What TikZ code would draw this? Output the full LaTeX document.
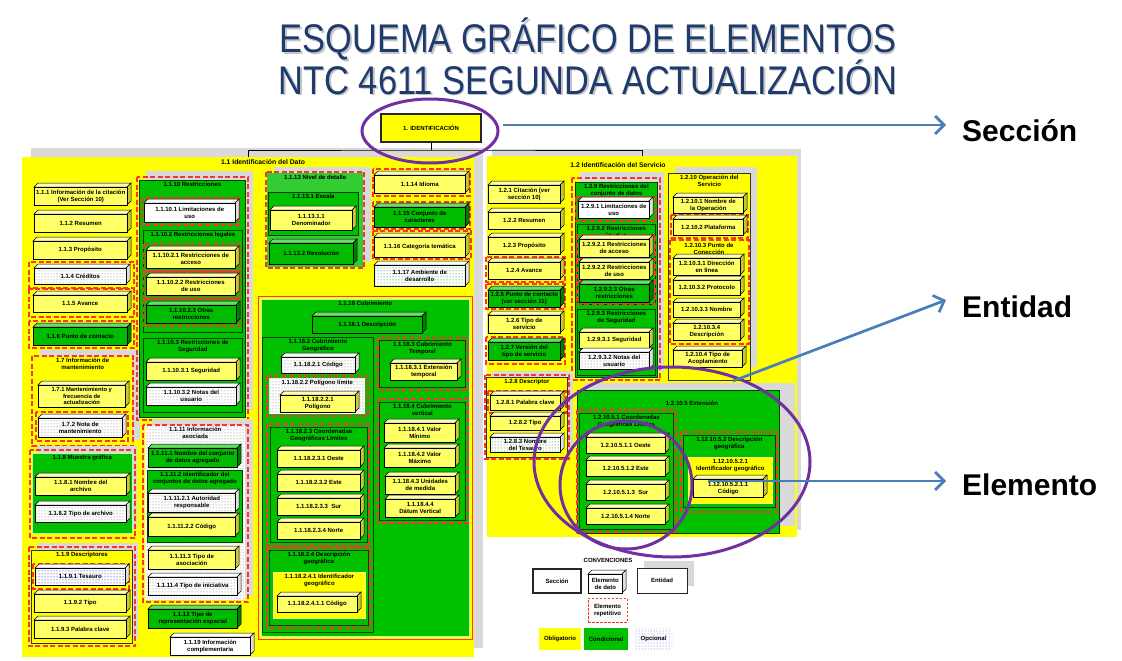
\documentclass[tikz,border=0pt]{standalone}
\usepackage{fontspec}
\setmainfont{Liberation Sans}
\usepackage{graphicx}
\usetikzlibrary{patterns,arrows.meta,shapes.geometric}
\definecolor{areaY}{HTML}{FFFF00}
\definecolor{grG}{HTML}{00C000}
\definecolor{grLG}{HTML}{33CC33}
\definecolor{bY}{HTML}{FFFF66}
\definecolor{bYt}{HTML}{FFFFB3}
\definecolor{bYs}{HTML}{C8C832}
\definecolor{bG}{HTML}{00BB00}
\definecolor{bGt}{HTML}{66DD66}
\definecolor{bGs}{HTML}{008000}
\definecolor{shgray}{HTML}{D9D9D9}
\definecolor{repred}{HTML}{FF3030}
\definecolor{navy}{HTML}{1F3A6E}
\definecolor{purp}{HTML}{7030A0}
\definecolor{blueA}{HTML}{4A7EBB}
\newcommand\boxfont{\fontsize{6}{7.1}\selectfont\bfseries}
\newcommand\smallboxfont{\fontsize{5.8}{6.4}\selectfont\bfseries}
\tikzset{
  ebox/.style={draw=black, line width=0.5pt, inner sep=0.3pt, align=center, font=\boxfont},
  faceline/.style={draw=black, line width=0.5pt},
  frontY/.style={fill=bY}, topY/.style={fill=bYt}, sideY/.style={fill=bYs},
  frontT/.style={fill=bY, font=\smallboxfont}, topT/.style={fill=bYt}, sideT/.style={fill=bYs},
  frontG/.style={fill=bG}, topG/.style={fill=bGt}, sideG/.style={fill=bGs},
  frontW/.style={fill=white}, topW/.style={fill=white}, sideW/.style={fill=gray!25},
  frontO/.style={fill=white, postaction={pattern=dots, pattern color=black!55}}, topO/.style={fill=white}, sideO/.style={fill=gray!25},
  frontB/.style={fill=white, postaction={pattern=dots, pattern color=blue!60!black}}, topB/.style={fill=white}, sideB/.style={fill=gray!25},
  frontN/.style={fill=white, postaction={pattern=dots, pattern color=green!50!black}}, topN/.style={fill=white}, sideN/.style={fill=gray!25},
  grpbase/.style={inner sep=0pt},
  gG/.style={fill=grG, draw=black!75!green, line width=0.8pt},
  gGl/.style={fill=grG, draw=green!30!white, line width=0.6pt},
  gLG/.style={fill=grLG, draw=none},
  gY/.style={fill=areaY, draw=black!80, line width=0.8pt},
  gY0/.style={fill=areaY, draw=none},
  gYl/.style={fill=areaY, draw=white!50!yellow, line width=0.8pt},
  gO/.style={fill=white, postaction={pattern=dots, pattern color=black!55}},
  gtitle/.style={font=\boxfont, align=center, inner sep=0.5pt},
  atitle/.style={font=\fontsize{6.8}{8}\selectfont\bfseries, inner sep=0pt},
  area/.style={fill=areaY, inner sep=0pt},
  repf/.style={draw=repred, line width=1.1pt, dash pattern=on 5pt off 2.5pt},
  shdw/.style={fill=shgray},
  tree/.style={draw=black, line width=0.6pt},
  purpring/.style={draw=purp, line width=3pt, ellipse, inner sep=0pt},
  bluearrow/.style={draw=blueA, line width=2.7pt, -{Straight Barb[length=9pt,width=18pt]}},
  lbl/.style={font=\fontsize{30}{30}\selectfont\bfseries, inner sep=0pt},
  ttl/.style={font=\fontsize{40}{40}\selectfont, text=navy, inner sep=0pt},
  ttls/.style={font=\fontsize{40}{40}\selectfont, text=gray!45, inner sep=0pt},
  g118o/.style={fill=areaY, draw=repred, line width=1pt, inner sep=0pt},
  identbox/.style={fill=areaY, draw=black!85, line width=1.8pt, font=\boxfont, minimum width=100pt, minimum height=28pt, inner sep=0pt},
  cvtitle/.style={font=\boxfont, inner sep=0pt},
  secbox/.style={draw=black!85, line width=1.6pt, font=\boxfont, inner sep=0pt, align=center},
  entbox/.style={draw=black!85, fill=white, line width=1pt, font=\boxfont, inner sep=0pt},
  repbox/.style={draw=repred, line width=1pt, dash pattern=on 2.5pt off 1.5pt, font=\boxfont, inner sep=0pt, align=center},
  cvfill/.style={font=\boxfont, inner sep=0pt, minimum height=22pt},
}
\newcommand\eb[7]{%
  \path[faceline,top#6] (#2,#3) -- ++(4,-4) -- ++(#4,0) -- ++(-4,4) -- cycle;
  \path[faceline,side#6] (#2+#4,#3) -- ++(4,-4) -- ++(0,#5) -- ++(-4,4) -- cycle;
  \node[ebox,front#6,minimum width=#4pt,minimum height=#5pt,anchor=north west] (#1) at (#2,#3) {#7};}
\newcommand\grp[7]{%
  \node[grpbase,#6,minimum width=#4pt,minimum height=#5pt,anchor=north west] (#1) at (#2,#3) {};
  \node[gtitle,anchor=north] (#1-t) at ([yshift=-1.5pt]#1.north) {#7};}
\newcommand\rframe[4]{\draw[repf] (#1,#2) rectangle (#3,#4);}
\newcommand\gshadow[4]{\fill[shdw] (#1,#2) rectangle (#3,#4);}
\begin{document}
\begin{tikzpicture}[x=1pt,y=-1pt]
\useasboundingbox (0,0) rectangle (1122,661);
\fill[white] (0,0) rectangle (1122,661);
% ---------- title
\node[ttls, anchor=base] (t1s) at (589.5,54.5) {\scalebox{0.86}[1]{ESQUEMA GRÁFICO DE ELEMENTOS}};
\node[ttl, anchor=base] (t1) at (588,53) {\scalebox{0.86}[1]{ESQUEMA GRÁFICO DE ELEMENTOS}};
\node[ttls, anchor=base] (t2s) at (589.5,95.5) {\scalebox{0.86}[1]{NTC 4611 SEGUNDA ACTUALIZACIÓN}};
\node[ttl, anchor=base] (t2) at (588,94) {\scalebox{0.86}[1]{NTC 4611 SEGUNDA ACTUALIZACIÓN}};
% ---------- section 1.1
\gshadow{31}{148}{483}{648}
\node[area,minimum width=452pt,minimum height=500pt,anchor=north west] (a11) at (22,157) {};
\node[atitle] (a11-t) at (263,162) {1.1 Identificación del Dato};
% column 1
\eb{e111}{34}{187}{93}{18}{Y}{1.1.1 Información de la citación\\(Ver Sección 10)}
\eb{e112}{34}{214}{93}{18}{Y}{1.1.2 Resumen}
\eb{e113}{33}{241}{94}{18}{Y}{1.1.3 Propósito}
\rframe{29}{262}{134}{288}
\eb{e114}{34}{268}{92}{16}{O}{1.1.4 Créditos}
\rframe{29}{289}{134}{317}
\eb{e115}{33}{295}{94}{17}{Y}{1.1.5 Avance}
\rframe{29}{321}{134}{348}
\eb{e116}{33}{327}{94}{18}{G}{1.1.6 Punto de contacto}
\gshadow{40}{350}{140}{440}
\grp{g117}{32}{356}{101}{90}{gY0}{1.7 Información de\\mantenimiento}
\rframe{32}{356}{133}{446}
\eb{e1171}{38}{385}{87}{22}{T}{1.7.1 Mantenimiento y\\frecuencia de\\actualización}
\rframe{36}{412}{128}{441}
\eb{e1172}{38}{418}{84}{19}{O}{1.7.2 Nota de\\mantenimiento}
\gshadow{37}{446}{137}{528}
\grp{g118}{32}{453}{100}{80}{gGl}{1.1.8 Muestra gráfica}
\rframe{30}{450}{135}{538}
\eb{e1181}{35}{477}{91}{18}{Y}{1.1.8.1 Nombre del\\archivo}
\eb{e1182}{35}{505}{91}{17}{O}{1.1.8.2 Tipo de archivo}
\gshadow{37}{543}{138}{638}
\grp{g119}{31}{550}{101}{93}{gY}{1.1.9 Descriptores}
\rframe{29}{547}{135}{646}
\rframe{33}{564}{129}{589}
\eb{e1191}{35}{568}{90}{17}{B}{1.1.9.1 Tesauro}
\eb{e1192}{34}{594}{92}{18}{Y}{1.1.9.2 Tipo}
\eb{e1193}{34}{620}{92}{18}{Y}{1.1.9.3 Palabra clave}
% column 2
\gshadow{146}{171}{253}{410}
\grp{g1110}{139}{180}{106}{237}{gG}{1.1.10 Restricciones}
\rframe{137}{177}{248}{420}
\rframe{142}{198}{239}{225}
\eb{e11101}{144}{203}{91}{19}{W}{1.1.10.1 Limitaciones de\\uso}
\grp{g11102}{143}{230}{99}{102}{gG}{1.1.10.2 Restricciones legales}
\rframe{144}{244}{240}{271}
\eb{e111021}{146}{250}{89}{18}{Y}{1.1.10.2.1 Restricciones de\\acceso}
\rframe{144}{272}{240}{298}
\eb{e111022}{146}{277}{89}{18}{Y}{1.1.10.2.2 Restricciones\\de uso}
\rframe{144}{299}{240}{326}
\eb{e111023}{146}{305}{90}{18}{G}{1.1.10.2.3 Otras\\restricciones}
\grp{g11103}{143}{338}{99}{74}{gG}{1.1.10.3 Restricciones de\\Seguridad}
\eb{e111031}{146}{362}{90}{18}{Y}{1.1.10.3.1 Seguridad}
\eb{e111032}{146}{387}{90}{18}{O}{1.1.10.3.2 Notas del\\usuario}
\gshadow{152}{419}{253}{596}
\grp{g1111}{145}{425}{100}{175}{gO}{1.1.11 Información\\asociada}
\rframe{143}{425}{248}{602}
\eb{e11111}{148}{448}{89}{19}{G}{1.1.11.1 Nombre del conjunto\\de datos agregado}
\grp{g11112}{147}{470}{95}{72}{gG}{1.1.11.2 Identificador del\\conjuntos de datos agregado}
\eb{e111121}{148}{493}{87}{19}{O}{1.1.11.2.1 Autoridad\\responsable}
\eb{e111122}{148}{517}{87}{19}{Y}{1.1.11.2.2 Código}
\eb{e11113}{148}{550}{87}{19}{Y}{1.1.11.3 Tipo de\\asociación}
\eb{e11114}{148}{577}{89}{18}{O}{1.1.11.4 Tipo de iniciativa}
\eb{e1112}{148}{609}{89}{19}{G}{1.1.12 Tipo de\\representación espacial}
\eb{e1119}{170}{637}{80}{18}{W}{1.1.19 Información\\complementaria}
% column 3
\gshadow{274}{167}{371}{262}
\grp{g1113}{267}{173}{96}{94}{gLG}{1.1.13 Nivel de detalle}
\rframe{266}{172}{364}{268}
\grp{g11131}{268}{192}{90}{43}{gG}{1.1.13.1 Escala}
\eb{e111311}{270}{210}{82}{20}{Y}{1.1.13.1.1\\Denominador}
\eb{e11132}{269}{243}{84}{21}{G}{1.1.13.2 Resolución}
\rframe{373}{169}{470}{196}
\eb{e1114}{374}{175}{91}{18}{Y}{1.1.14 Idioma}
\rframe{373}{202}{470}{229}
\eb{e1115}{374}{207}{91}{20}{G}{1.1.15 Conjunto de\\caracteres}
\rframe{373}{231}{471}{259}
\eb{e1116}{374}{237}{91}{20}{Y}{1.1.16 Categoría temática}
\eb{e1117}{374}{265}{91}{21}{N}{1.1.17 Ambiente de\\desarrollo}
% 1.1.18
\node[g118o,minimum width=214pt,minimum height=343pt,anchor=north west] (g1118o) at (258,296) {};
\grp{g1118}{261}{299}{208}{337}{gGl}{1.1.18 Cubrimiento}
\eb{e11181}{312}{316}{110}{17}{G}{1.1.18.1 Descripción}
\grp{g11182}{262}{337}{111}{295}{gG}{1.1.18.2 Cubrimiento\\Geográfico}
\eb{e111821}{281}{357}{74}{16}{O}{1.1.18.2.1 Código}
\rframe{267}{376}{368}{416}
\grp{g111822}{269}{378}{96}{36}{gO}{1.1.18.2.2 Polígono límite}
\eb{e1118221}{280}{395}{75}{17}{Y}{1.1.18.2.2.1\\Polígono}
\rframe{267}{424}{369}{546}
\grp{g111823}{270}{427}{97}{115}{gG}{1.1.18.2.3 Coordenadas\\Geográficas Límites}
\eb{e1118231}{277}{450}{83}{17}{Y}{1.1.18.2.3.1 Oeste}
\eb{e1118232}{277}{474}{83}{17}{Y}{1.1.18.2.3.2 Este}
\eb{e1118233}{277}{498}{83}{17}{Y}{1.1.18.2.3.3\ \ Sur}
\eb{e1118234}{277}{522}{83}{17}{Y}{1.1.18.2.3.4 Norte}
\rframe{267}{548}{370}{628}
\grp{g111824}{269}{550}{99}{75}{gG}{1.1.18.2.4 Descripción\\geográfica}
\grp{g1118241}{273}{572}{92}{46}{gYl}{1.1.18.2.4.1 Identificador\\geográfico}
\eb{e11182411}{277}{596}{80}{16}{Y}{1.1.18.2.4.1.1 Código}
\rframe{378}{338}{468}{390}
\grp{g11183}{379}{340}{86}{47}{gG}{1.1.18.3 Cubrimiento\\Temporal}
\eb{e111831}{390}{363}{67}{17}{Y}{1.1.18.3.1 Extensión\\temporal}
\rframe{378}{399}{468}{523}
\grp{g11184}{379}{402}{86}{118}{gG}{1.1.18.4 Cubrimiento\\vertical}
\eb{e111841}{384}{423}{71}{19}{Y}{1.1.18.4.1 Valor\\Mínimo}
\eb{e111842}{384}{448}{71}{19}{Y}{1.1.18.4.2 Valor\\Máximo}
\eb{e111843}{385}{476}{70}{18}{Y}{1.1.18.4.3 Unidades\\de medida}
\eb{e111844}{385}{499}{70}{18}{Y}{1.1.18.4.4\\Dátum Vertical}
% ---------- section 1.2
\gshadow{492}{149}{801}{530}
\node[area,minimum width=310pt,minimum height=381pt,anchor=north west] (a12) at (487,156) {};
\node[atitle] (a12-t) at (618,165) {1.2 Identificación del Servicio};
\eb{e121}{488}{185}{72}{18}{Y}{1.2.1 Citación (ver\\sección 10)}
\eb{e122}{488}{212}{72}{17}{Y}{1.2.2 Resumen}
\eb{e123}{488}{237}{72}{17}{Y}{1.2.3 Propósito}
\rframe{486}{257}{565}{282}
\eb{e124}{488}{262}{72}{17}{Y}{1.2.4 Avance}
\rframe{486}{284}{565}{309}
\eb{e125}{488}{290}{72}{17}{G}{1.2.5 Punto de contacto\\(ver sección 11)}
\eb{e126}{488}{315}{72}{18}{Y}{1.2.6 Tipo de\\servicio}
\rframe{486}{337}{565}{364}
\eb{e127}{488}{342}{72}{18}{G}{1.2.7 Versión del\\tipo de servicio}
% 1.2.9
\gshadow{580}{172}{664}{372}
\grp{g129}{575}{182}{82}{195}{gG}{1.2.9 Restricciones del\\conjunto de datos}
\rframe{572}{178}{660}{380}
\rframe{576}{197}{656}{221}
\eb{e1291}{578}{201}{71}{17}{W}{1.2.9.1 Limitaciones de\\uso}
\grp{g1292}{577}{224}{78}{80}{gG}{1.2.9.2 Restricciones\\legales}
\rframe{577}{235}{655}{259}
\rframe{577}{259}{655}{281}
\rframe{577}{281}{655}{304}
\eb{e12921}{579}{239}{70}{18}{Y}{1.2.9.2.1 Restricciones\\de acceso}
\eb{e12922}{579}{262}{70}{17}{Y}{1.2.9.2.2 Restricciones\\de uso}
\eb{e12923}{579}{284}{70}{18}{G}{1.2.9.2.3 Otras\\restricciones}
\grp{g1293}{577}{309}{78}{66}{gG}{1.2.9.3 Restricciones\\de Seguridad}
\eb{e12931}{579}{332}{70}{16}{Y}{1.2.9.3.1 Seguridad}
\eb{e12932}{579}{352}{70}{17}{O}{1.2.9.3.2 Notas del\\usuario}
% 1.2.10
\gshadow{675}{167}{757}{367}
\grp{g1210}{668}{173}{82}{207}{gY}{1.2.10 Operación del\\Servicio}
\eb{e12101}{673}{197}{70}{16}{Y}{1.2.10.1 Nombre de\\la Operación}
\rframe{671}{215}{748}{238}
\eb{e12102}{673}{219}{70}{16}{Y}{1.2.10.2 Plataforma}
\rframe{670}{240}{749}{344}
\node[gtitle,anchor=north] (t12103) at (709,242) {1.2.10.3 Punto de\\Conección};
\eb{e121031}{673}{258}{67}{17}{Y}{1.2.10.3.1 Dirección\\en línea}
\eb{e121032}{673}{280}{67}{15}{Y}{1.2.10.3.2 Protocolo}
\eb{e121033}{673}{302}{67}{15}{Y}{1.2.10.3.3 Nombre}
\eb{e121034}{673}{323}{67}{17}{Y}{1.2.10.3.4\\Descripción}
\eb{e12104}{673}{350}{69}{17}{Y}{1.2.10.4 Tipo de\\Acoplamiento}
% 1.2.8
\gshadow{492}{371}{573}{452}
\grp{g128}{486}{377}{81}{80}{gY}{1.2.8 Descriptor}
\rframe{485}{375}{569}{459}
\rframe{488}{391}{566}{413}
\eb{e1281}{490}{395}{70}{15}{Y}{1.2.8.1 Palabra clave}
\eb{e1282}{490}{416}{70}{14}{Y}{1.2.8.2 Tipo}
\eb{e1283}{490}{437}{70}{15}{N}{1.2.8.3 Nombre\\del Tesauro}
% 1.2.10.5
\gshadow{584}{383}{795}{526}
\node[grpbase,gG,minimum width=202pt,minimum height=143pt,anchor=north west] (g12105) at (577,390) {};
\node[gtitle] (g12105-t) at (692,403) {1.2.10.5 Extensión};
\rframe{577}{410}{676}{532}
\grp{g121051}{579}{413}{94}{116}{gG}{1.2.10.5.1 Coordenadas\\Geográficas Límites}
\eb{e1210511}{586}{437}{79}{16}{Y}{1.2.10.5.1.1 Oeste}
\eb{e1210512}{586}{460}{79}{16}{Y}{1.2.10.5.1.2 Este}
\eb{e1210513}{586}{484}{79}{16}{Y}{1.2.10.5.1.3\ \ Sur}
\eb{e1210514}{586}{508}{79}{16}{Y}{1.2.10.5.1.4 Norte}
\rframe{681}{432}{777}{512}
\grp{g121052}{683}{435}{92}{72}{gG}{1.12.10.5.2 Descripción\\geográfica}
\grp{g1210521}{688}{457}{84}{46}{gYl}{1.12.10.5.2.1\\Identificador geográfico}
\eb{e12105211}{693}{479}{70}{18}{Y}{1.12.10.5.2.1.1\\Código}
% ---------- top node and tree
\node[identbox] (ident) at (431,128) {1. IDENTIFICACIÓN};
\coordinate (j) at (431,150);
\draw[tree] (ident.south) -- (j);
\draw[tree] (a11.north) |- (j) -| (a12.north);
% ---------- purple rings
\node[purpring, minimum width=136pt, minimum height=64pt] (ring1) at (430,131) {};
\node[purpring, minimum width=276pt, minimum height=190pt] (ring2) at (672,462) {};
\node[purpring, minimum width=132pt, minimum height=128pt] (ring3) at (626,485) {};
% ---------- blue arrows and labels
\node[lbl, anchor=base west] (lsec) at (962,141) {Sección};
\node[lbl, anchor=base west] (lent) at (962,317) {Entidad};
\node[lbl, anchor=base west] (lele) at (962,495) {Elemento};
\coordinate (sa) at (503,125); \coordinate (sb) at (946,125);
\coordinate (ea) at (733,381); \coordinate (eb) at (946,300);
\coordinate (la) at (708,481); \coordinate (lb) at (946,481);
\draw[bluearrow] (sa) -- (sb);
\draw[bluearrow] (ea) -- (eb);
\draw[bluearrow] (la) -- (lb);
% ---------- conventions
\node[cvtitle] (cv) at (608,560) {CONVENCIONES};
\node[secbox, minimum width=48pt, minimum height=24pt] (cvsec) at (557,581) {Sección};
\eb{cvel}{588}{574}{34}{19}{W}{Elemento\\de dato}
\fill[shdw] (644,561) rectangle (694,586);
\node[entbox, minimum width=50pt, minimum height=25pt] (cvent) at (662,580.5) {Entidad};
\node[repbox, minimum width=39pt, minimum height=24pt] (cvrep) at (607.5,610) {Elemento\\repetitivo};
\node[cvfill, fill=areaY, minimum width=42pt] (cvobl) at (560,639) {Obligatorio};
\node[cvfill, fill=grG, minimum width=44pt] (cvcon) at (606,639) {Condicional};
\node[cvfill, fill=white, postaction={pattern=dots, pattern color=blue!60}, minimum width=37pt] (cvopc) at (653.5,639) {Opcional};
\end{tikzpicture}
\end{document}
